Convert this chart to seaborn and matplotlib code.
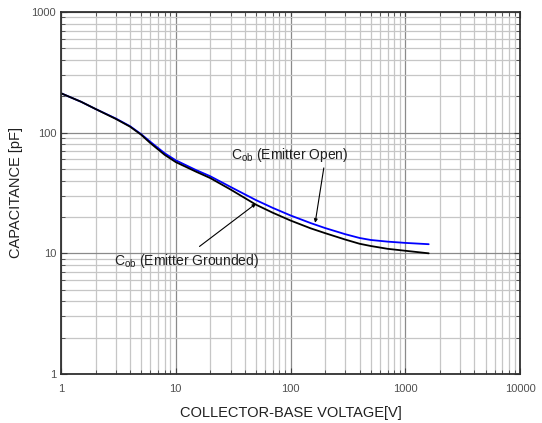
import numpy as np
import pandas as pd
import matplotlib
matplotlib.use("Agg")
import matplotlib.pyplot as plt
import seaborn as sns

# values (log-log axes)
voltage = [1, 1.5, 2, 3, 4, 5, 6, 8, 10, 15, 20, 30, 50, 70, 100, 150, 200, 300, 400, 500, 700, 1000, 1600]
cob_open = [212, 180, 157, 131, 113, 97, 84, 67.5, 59, 49, 43.5, 35.5, 27.6, 23.8, 20.6,
            17.8, 16.2, 14.4, 13.4, 12.9, 12.5, 12.2, 11.9]
cob_grounded = [212, 180, 157, 130, 112, 96, 82, 65.5, 57, 47.5, 42, 33.8, 25.3, 21.7, 18.7,
                16.1, 14.7, 13.0, 12.0, 11.5, 10.9, 10.5, 10.0]

df = pd.DataFrame({
    "V": voltage * 2,
    "C": cob_open + cob_grounded,
    "series": ["open"] * len(voltage) + ["grounded"] * len(voltage),
})

sns.set_style("white")
plt.rcParams["font.family"] = ["Liberation Sans", "DejaVu Sans"]
plt.rcParams["mathtext.fontset"] = "custom"
plt.rcParams["mathtext.rm"] = "Liberation Sans"
plt.rcParams["mathtext.it"] = "Liberation Sans"

fig = plt.figure(figsize=(5.42, 4.23), dpi=100)
ax = fig.add_axes([0.1125, 0.1158, 0.847, 0.856])

sns.lineplot(data=df, x="V", y="C", hue="series",
             palette={"open": "#0000ff", "grounded": "#000000"},
             linewidth=1.3, legend=False, ax=ax)

ax.set_xscale("log")
ax.set_yscale("log")
ax.set_xlim(1, 10000)
ax.set_ylim(1, 1000)
ax.set_xticks([1, 10, 100, 1000, 10000])
ax.set_xticklabels(["1", "10", "100", "1000", "10000"])
ax.set_yticks([1, 10, 100, 1000])
ax.set_yticklabels(["1", "10", "100", "1000"])

ax.grid(which="major", color="#8a8a8a", linewidth=0.9)
ax.grid(which="minor", color="#c6c6c6", linewidth=0.9)
ax.set_axisbelow(True)
ax.tick_params(which="both", direction="in", left=True, right=True, bottom=True, top=True,
               labelsize=8, colors="#404040", labelcolor="#505050", length=4)
ax.tick_params(which="minor", length=3)
ax.tick_params(axis="x", pad=7)
for s in ax.spines.values():
    s.set_color("#303030")
    s.set_linewidth(1.3)

ax.set_xlabel("COLLECTOR-BASE VOLTAGE[V]", fontsize=10.5, labelpad=9, color="#202020")
ax.set_ylabel("CAPACITANCE [pF]", fontsize=10.5, labelpad=6, color="#202020")

# callouts
arrow = dict(arrowstyle="-|>", color="black", lw=0.8, mutation_scale=5, shrinkA=0, shrinkB=0)
ax.text(30, 65, r"C$_{\mathrm{ob}}$ (Emitter Open)", fontsize=10, ha="left", va="center", color="#202020")
ax.annotate("", xy=(164, 17.9), xytext=(195, 51), arrowprops=arrow)
ax.text(2.9, 8.7, r"C$_{\mathrm{ob}}$ (Emitter Grounded)", fontsize=10, ha="left", va="center", color="#202020")
ax.annotate("", xy=(50, 25.8), xytext=(16.1, 11.4), arrowprops=arrow)

fig.savefig("out.png", dpi=100)
